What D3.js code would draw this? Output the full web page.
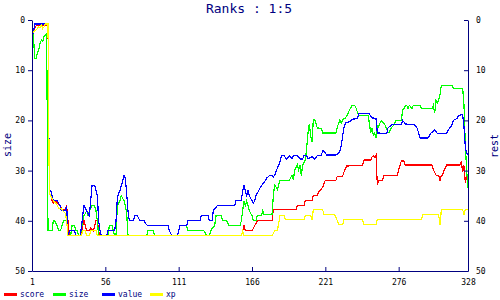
<!DOCTYPE html>
<html>
<head>
<meta charset="utf-8">
<script src="https://cdn.jsdelivr.net/npm/d3@7"></script>
<style>
  body { margin: 0; background: #fff; }
  svg { display: block; }
  text { font-family: "DejaVu Sans Mono", monospace; }
</style>
</head>
<body>
<div id="chart"></div>
<script>
// Data: [rank index, value]
const score = [[1,2.8],[2,2.2],[3,1.7],[4,1.2],[5,1],[13,1],[14,34.5],[15,35],[16,36],[17,36.5],[19,36],[20,36.5],[22,37],[23,37.5],[25,38],[26,37.5],[27,37],[28,40],[29,43],
  [38,43],[39,41],[40,40],[41,41],[42,42],[44,42],[45,41.5],[47,42],[48,41],[49,40],[50,40],[51,42],[52,43],
  [158,43],[159,42],[160,41],[161,42],[166,42],[167,41.5],[168,41],[170,40],[181,40],[182,37.8],[199,37.8],[200,37],[205,37],[206,35.9],[211,35.9],[212,35],[215,35],[216,34.2],[218,33.7],[219,33.3],[220,32.5],[221,31.9],[229,31.9],[230,31.1],[234,31.1],[235,30.3],[236,29.7],[237,29.1],[249,28.9],[250,27.9],[255,27.9],[256,27.3],[257,27.1],[258,27.3],[259,26.9],[260,32.9],[261,31.9],[264,31.9],[265,30.9],[275,30.9],[276,29.9],[277,28.9],[278,28.1],[280,28.1],[281,28.9],[301,28.9],[302,29.9],[303,30.3],[304,30.9],[306,30.9],[307,31.9],[308,30.9],[309,30.9],[310,29.9],[312,28.9],[322,28.9],[323,28.1],[324,30.3],[325,29],[326,32.4],[327,31],[328,31]];

const size = [[1,3],[2,2.7],[3,7.6],[4,7.6],[5,6.6],[6,6],[7,4.7],[8,4],[9,4.3],[10,3.3],[11,3],[12,2.7],[13,42],[16,42],[17,40],[18,40],[20,41],[21,42],[22,42],[23,41.5],[24,40.5],[25,40],[27,40],[28,43],
  [30,43],[31,41],[33,41],[34,42],[35,42],[36,43],[37,43],[38,42],[39,40],[40,39],[42,38],[43,39],[44,38],[46,37],[48,37],[49,38],[50,40],[51,43],
  [58,43],[59,41],[61,41],[62,42],[63,43],[64,43],[65,37],[67,36],[68,35],[69,35.5],[70,36],[71,37],[72,38.5],[73,43],
  [87,43],[88,42],[92,42],[93,43],[110,43],[111,42],[112,41],[117,41],[118,42],[130,42],[132,43],[134,43],[135,42],[136,41.5],[138,41],[139,39],[143,39],[144,40],[147,40],[148,40.5],[149,41],[157,41],[158,40],[159,38],[160,36],[161,37],[162,36],[163,37],[164,38],[166,39],[167,40],[169,40],[170,39],[173,39],[174,38],[175,38.8],[181,38.8],[182,35],[183,32.9],[184,33.3],[185,33.8],[187,31.9],[194,31.9],[196,30.9],[197,31.9],[198,29.9],[200,28.9],[201,29.9],[202,28.9],[203,31],[204,28.9],[206,27.9],[207,25.5],[208,22.5],[209,20.7],[210,23],[211,24.3],[212,19.9],[213,19.8],[215,21.5],[218,21.6],[219,22.5],[229,22.5],[230,21.3],[232,19.9],[233,20.5],[234,19.9],[236,19.5],[237,19.2],[238,18.6],[239,18],[241,17],[243,17],[244,17.5],[245,18.3],[246,19],[253,19],[254,20.5],[255,22.5],[256,21.5],[257,23],[258,22.5],[259,23.5],[260,21],[261,21.3],[262,20.5],[263,20],[264,20.3],[266,21],[267,21.7],[268,22.5],[269,22.3],[270,21.7],[272,21],[273,20.5],[274,20],[278,20],[279,18],[281,17.2],[282,17],[283,17.6],[284,17],[286,17.6],[287,17],[292,17],[293,17.6],[301,17.6],[302,17],[303,18.6],[304,16],[305,16.5],[306,16],[307,14.8],[308,13],[316,13],[317,13.6],[324,13.6],[325,17],[326,25],[327,30],[328,33.5]];

const value = [[1,3.5],[2,2.5],[3,0.8],[13,0.8],[14,34],[15,34],[16,35],[17,36],[20,36],[22,37],[23,38],[26,38],[27,37],[28,43],
  [29,42],[33,42],[34,43],[37,43],[38,41.5],[39,39],[40,37],[42,38],[43,38.5],[44,39],[45,36],[46,33],[48,33],[49,34],[50,35],[51,40],[52,42],[53,43],
  [57,43],[58,42],[63,42],[64,40],[65,35.5],[66,34.5],[67,34],[68,33],[69,32],[70,31],[71,31.5],[72,34.5],[73,38],[74,40],[77,40],[78,39],[80,39],[81,39.5],[82,40],[85,40],[86,40.5],[88,41],[103,41],[104,42],[106,43],[110,43],[111,42],[112,41],[117,41],[118,40],[127,40],[128,39],[133,39],[134,40],[136,40],[137,38],[138,37.6],[140,37],[153,37],[154,36],[158,36],[159,34],[160,33],[161,34],[162,35],[163,34],[164,35],[166,36],[167,36.5],[168,36],[169,35],[170,34.5],[172,33.5],[174,32.7],[176,32],[177,31.5],[179,31],[181,30.9],[182,31.3],[183,30.9],[185,29.5],[186,29],[187,28.3],[188,27],[190,27],[192,27.7],[194,27],[196,27.7],[197,27],[200,27],[202,27.7],[204,27.7],[205,27],[207,27],[208,27.7],[211,27.2],[213,27.7],[215,27],[218,27],[219,26],[221,26.5],[222,26.9],[229,26.9],[231,26.5],[232,26],[233,25],[234,23],[235,21.5],[236,20.5],[239,20.3],[241,19.8],[245,19.6],[246,18.7],[254,18.7],[256,19.5],[259,19.6],[260,22.5],[267,22.6],[268,21.5],[271,20.8],[278,20.8],[279,20],[281,20.7],[288,20.9],[290,21.6],[291,22.6],[292,23.5],[298,23.5],[300,22.6],[303,21.9],[305,22.6],[312,22.6],[313,22],[316,20.9],[317,20],[320,19.6],[321,19],[324,18.8],[325,21.3],[326,25.3],[327,26.5],[328,26.9]];

const xp = [[1,2.8],[2,2.4],[3,2.2],[4,2],[5,1.7],[6,1.4],[7,1.5],[8,1],[9,1.7],[10,1.4],[11,0.8],[13,0.8],[14,34.5],[15,35],[16,35.5],[17,36],[19,36.5],[21,37.5],[23,37.5],[24,38],[26,38.5],[27,40],[28,43],
  [38,43],[39,42],[41,42],[42,43],[44,43],[45,42],[49,42],[50,43],[158,43],[159,42],[160,43],
  [181,43],[183,42],[185,42],[186,40.5],[187,39],[190,39],[191,39.8],[205,39.8],[206,39],[210,39],[211,39.8],[212,37.8],[219,37.8],[220,38.8],[228,38.8],[229,39.3],[230,40],[231,40.8],[234,40.8],[235,39.8],[249,39.8],[250,40.8],[259,40.8],[260,39.8],[293,39.8],[294,38.8],[306,38.8],[307,40.8],[308,37.8],[324,37.8],[325,38.8],[326,37.8],[328,37.8]];

const seriesNames  = ["score", "size", "value", "xp"];
const seriesColors = ["#ff0000", "#00ff00", "#0000ff", "#ffff00"];
const xTicks = [1, 56, 111, 166, 221, 276, 328];
const yTicks = [0, 10, 20, 30, 40, 50];
const title = "Ranks : 1:5";

const W = 500, H = 300;
const m = { left: 32, right: 32, top: 20, bottom: 29 };
const axisColor = "#000080";

const svg = d3.select("#chart").append("svg")
  .attr("width", W).attr("height", H);

const x = d3.scaleLinear().domain([1, 328]).range([m.left, W - m.right]);
const y = d3.scaleLinear().domain([0, 50]).range([m.top, H - m.bottom]);

// series lines
const line = d3.line().x(d => x(d[0])).y(d => y(d[1]));
[score, size, value, xp].forEach(function (s, i) {
  svg.append("path")
    .datum(s)
    .attr("d", line)
    .attr("fill", "none")
    .attr("stroke", seriesColors[i])
    .attr("stroke-width", 1.2)
    .attr("shape-rendering", "crispEdges");
});

// axes
function styleAxis(g) {
  g.select(".domain").attr("stroke", axisColor);
  g.selectAll(".tick line").attr("stroke", axisColor);
  g.selectAll(".tick text")
    .attr("fill", "#000")
    .style("font-size", "8px")
    .style("font-family", "'DejaVu Sans Mono', monospace");
}

svg.append("g")
  .attr("transform", "translate(0," + (H - m.bottom) + ")")
  .call(d3.axisBottom(x).tickValues(xTicks).tickSizeInner(-4).tickSizeOuter(0).tickPadding(8))
  .call(styleAxis);

svg.append("g")
  .attr("transform", "translate(" + m.left + ",0)")
  .call(d3.axisLeft(y).tickValues(yTicks).tickSizeInner(4).tickSizeOuter(0).tickPadding(3))
  .call(styleAxis);

svg.append("g")
  .attr("transform", "translate(" + (W - m.right) + ",0)")
  .call(d3.axisRight(y).tickValues(yTicks).tickSizeInner(-4).tickSizeOuter(0).tickPadding(8))
  .call(styleAxis);

// title and axis titles
svg.append("text")
  .attr("x", 249).attr("y", 13)
  .attr("text-anchor", "middle")
  .attr("fill", axisColor)
  .style("font-size", "13px")
  .text(title);

svg.append("text")
  .attr("transform", "translate(11,145) rotate(-90)")
  .attr("text-anchor", "middle")
  .attr("fill", axisColor)
  .style("font-size", "10px")
  .text("size");

svg.append("text")
  .attr("transform", "translate(498,146) rotate(-90)")
  .attr("text-anchor", "middle")
  .attr("fill", axisColor)
  .style("font-size", "10px")
  .text("rest");

// legend
const legendX = [4, 53, 102, 150];
const legend = svg.selectAll(".legend")
  .data(seriesNames)
  .enter().append("g")
    .attr("class", "legend")
    .attr("transform", (d, i) => "translate(" + legendX[i] + ",294)");

legend.append("rect")
  .attr("x", 0).attr("y", -1).attr("width", 13).attr("height", 3)
  .attr("fill", (d, i) => seriesColors[i]);

legend.append("text")
  .attr("x", 16).attr("y", 3)
  .attr("fill", axisColor)
  .style("font-size", "8px")
  .text(d => d);
</script>
</body>
</html>
